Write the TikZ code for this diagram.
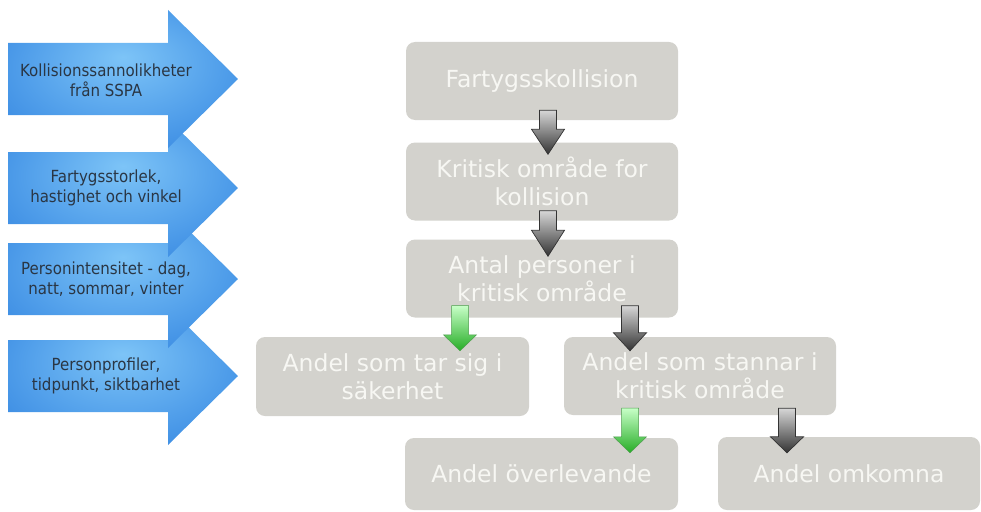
\documentclass[tikz,border=0pt]{standalone}
\usepackage{fontspec}
\setmainfont{DejaVu Sans}
\newfontfamily\labelfont{DejaVu Sans Condensed}
\usepackage{tikz}
\usetikzlibrary{calc}

\definecolor{boxgray}{RGB}{211,210,205}
\definecolor{boxtext}{RGB}{247,247,243}
\definecolor{bluelight}{RGB}{125,196,247}
\definecolor{bluemid}{RGB}{80,158,234}
\definecolor{bluedark}{RGB}{26,110,214}
\definecolor{inputtext}{RGB}{42,54,68}
\pgfdeclareradialshading{bluearrow}{\pgfpoint{0bp}{8bp}}{color(0bp)=(bluelight); color(22bp)=(bluemid); color(50bp)=(bluedark)}

% blue input arrow, #1 = centre line in px
\newcommand{\inputarrow}[1]{%
  \shade[inputarrow] (8,#1-36) -- (168,#1-36) -- (168,#1-69) -- (238,#1)
    -- (168,#1+69) -- (168,#1+36) -- (8,#1+36) -- cycle;}

% block arrow between two boxes: style, top point, tip point, head length
\newcommand{\blockarrow}[4]{%
  \shade[#1] let \p1=#2, \p2=#3 in
    (\x1-8.5pt,\y1) -- (\x1+8.5pt,\y1) -- (\x1+8.5pt,\y2+#4pt) -- (\x1+16.5pt,\y2+#4pt)
    -- (\x1,\y2) -- (\x1-16.5pt,\y2+#4pt) -- (\x1-8.5pt,\y2+#4pt) -- cycle;}

\begin{document}
\begin{tikzpicture}[x=1pt,y=-1pt,
  flowbox/.style={fill=boxgray, rounded corners=9pt, minimum width=272pt,
    minimum height=78pt, inner sep=0pt, align=center, text=boxtext,
    font=\fontsize{23.5}{28}\selectfont},
  inputlabel/.style={align=center, text=inputtext, inner sep=0pt,
    font=\labelfont\fontsize{16.7}{20}\selectfont},
  inputarrow/.style={shading=bluearrow},
  grayarrow/.style={top color=black!16, bottom color=black!80, draw=black!80, line width=0.7pt},
  greenarrow/.style={top color=green!22!white, bottom color=green!62!black!85, draw=green!45!black!70, line width=0.5pt}]
  \useasboundingbox (0,0) rectangle (981,511);

  % inputs on the left
  \inputarrow{376}
  \inputarrow{279}
  \inputarrow{188}
  \inputarrow{79}
  \node[inputlabel] (sspa) at (106,80) {Kollisionssannolikheter\\från SSPA};
  \node[inputlabel] (storlek) at (106,188) {Fartygsstorlek,\\hastighet och vinkel};
  \node[inputlabel] (intensitet) at (106,279) {Personintensitet - dag,\\natt, sommar, vinter};
  \node[inputlabel] (profiler) at (106,376) {Personprofiler,\\tidpunkt, siktbarhet};

  % event chain
  \node[flowbox] (fartyg) at (542,81) {Fartygsskollision};
  \node[flowbox] (kritisk) at (542,181.5) {Kritisk område for\\kollision};
  \node[flowbox] (antal) at (542,278.5) {Antal personer i\\kritisk område};
  \node[flowbox, minimum width=273pt, minimum height=79pt] (sakerhet) at (392.5,376.5) {Andel som tar sig i\\säkerhet};
  \node[flowbox] (stannar) at (700,376) {Andel som stannar i\\kritisk område};
  \node[flowbox, minimum width=273pt, minimum height=72pt] (overlev) at (541.5,474) {Andel överlevande};
  \node[flowbox, minimum width=262pt, minimum height=73pt] (omkomna) at (849,473.5) {Andel omkomna};

  \blockarrow{grayarrow}{($(fartyg.south)+(6,-10)$)}{($(kritisk.north)+(6,12)$)}{25}
  \blockarrow{grayarrow}{($(kritisk.south)+(6,-10)$)}{($(antal.north)+(6,17)$)}{26}
  \blockarrow{greenarrow}{($(antal.south)+(-82,-12)$)}{($(sakerhet.north)+(0,14)$)}{16}
  \blockarrow{grayarrow}{($(antal.south)+(88,-12)$)}{($(stannar.north)+(0,14)$)}{18}
  \blockarrow{greenarrow}{($(stannar.south)+(-70,-7)$)}{($(overlev.north)+(0,15)$)}{16}
  \blockarrow{grayarrow}{($(stannar.south)+(87,-7)$)}{($(omkomna.north)+(0,16)$)}{16}
\end{tikzpicture}
\end{document}
